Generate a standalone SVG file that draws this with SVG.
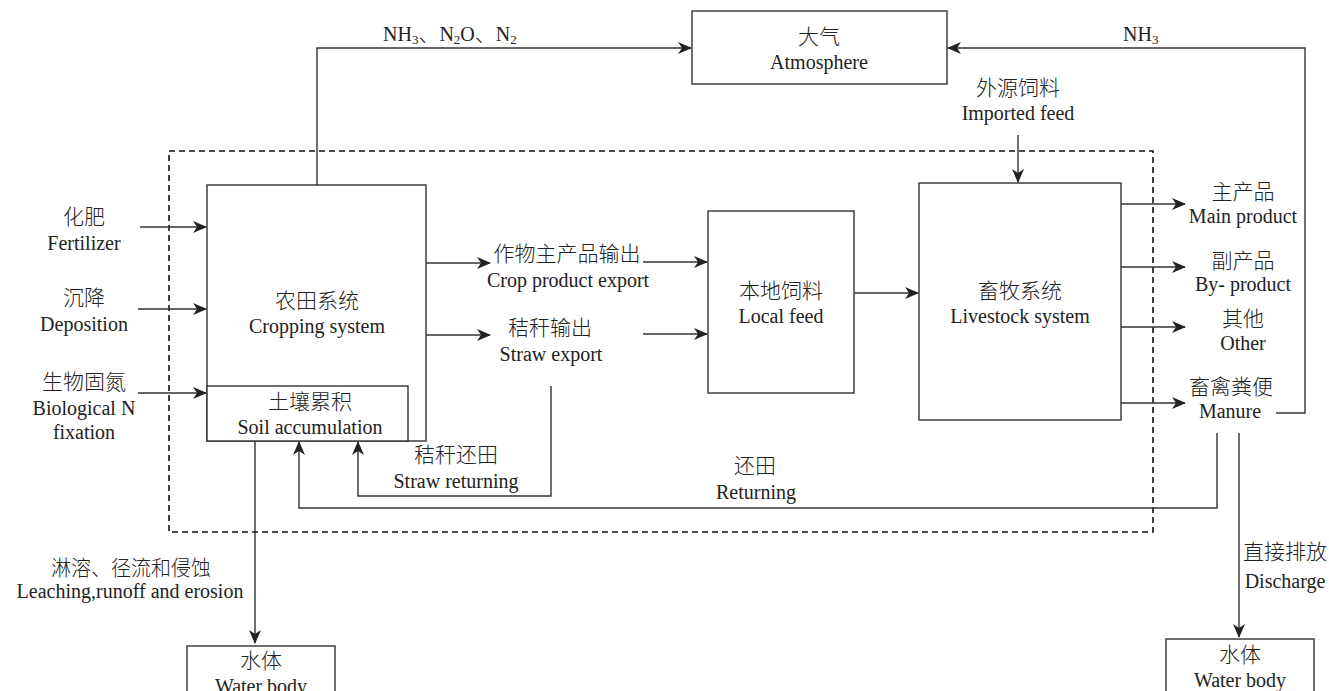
<svg xmlns="http://www.w3.org/2000/svg" width="1329" height="691" viewBox="0 0 1329 691">
<style>
.box{fill:#fff;stroke:#333;stroke-width:1.4}
.ln{fill:none;stroke:#333;stroke-width:1.4}
.dash{fill:none;stroke:#111;stroke-width:1.6;stroke-dasharray:6 4}
text{font-family:"Liberation Serif","Noto Sans CJK SC",serif;font-size:20px;fill:#222;text-anchor:middle}
.zh{font-family:"Noto Sans CJK SC","Liberation Serif",sans-serif;font-size:21px;font-weight:300}
.st{text-anchor:start}
</style>
<defs>
<marker id="ah" markerWidth="14" markerHeight="12" refX="13" refY="6" orient="auto" markerUnits="userSpaceOnUse">
<path d="M0,0 L14,6 L0,12 L4,6 z" fill="#222"/>
</marker>
</defs>
<rect class="dash" x="169" y="151" width="984" height="381"/>
<g id="connectors">
<path class="ln" d="M317,185 V48 H691" marker-end="url(#ah)"/>
<path class="ln" d="M1276,413 H1305 V48 H948" marker-end="url(#ah)"/>
<path class="ln" d="M1018,135 V182" marker-end="url(#ah)"/>
<path class="ln" d="M140,227 H206" marker-end="url(#ah)"/>
<path class="ln" d="M138,309 H206" marker-end="url(#ah)"/>
<path class="ln" d="M138,393 H206" marker-end="url(#ah)"/>
<path class="ln" d="M426,263 H490" marker-end="url(#ah)"/>
<path class="ln" d="M643,262 H707" marker-end="url(#ah)"/>
<path class="ln" d="M426,335 H490" marker-end="url(#ah)"/>
<path class="ln" d="M643,334 H707" marker-end="url(#ah)"/>
<path class="ln" d="M854,293 H918" marker-end="url(#ah)"/>
<path class="ln" d="M1121,204 H1185" marker-end="url(#ah)"/>
<path class="ln" d="M1121,267 H1185" marker-end="url(#ah)"/>
<path class="ln" d="M1121,327 H1185" marker-end="url(#ah)"/>
<path class="ln" d="M1121,403 H1185" marker-end="url(#ah)"/>
<path class="ln" d="M551,386 V496 H358 V442" marker-end="url(#ah)"/>
<path class="ln" d="M1217,433 V508 H299 V442" marker-end="url(#ah)"/>
<path class="ln" d="M255,441 V643" marker-end="url(#ah)"/>
<path class="ln" d="M1239,433 V637" marker-end="url(#ah)"/>
</g>
<g id="atmosphere">
<rect class="box" x="692" y="11" width="255" height="73"/>
<text class="zh" x="819" y="44">大气</text>
<text x="819" y="69">Atmosphere</text>
</g>
<g id="cropping">
<rect class="box" x="207" y="185" width="219" height="256"/>
<text class="zh" x="317" y="308">农田系统</text>
<text x="317" y="333">Cropping system</text>
</g>
<g id="soil">
<rect class="box" x="207" y="386" width="201" height="55"/>
<text class="zh" x="310" y="409">土壤累积</text>
<text x="310" y="434">Soil accumulation</text>
</g>
<g id="localfeed">
<rect class="box" x="708" y="211" width="146" height="182"/>
<text class="zh" x="781" y="298">本地饲料</text>
<text x="781" y="323">Local feed</text>
</g>
<g id="livestock">
<rect class="box" x="919" y="183" width="202" height="237"/>
<text class="zh" x="1020" y="298">畜牧系统</text>
<text x="1020" y="323">Livestock system</text>
</g>
<g id="water-left">
<rect class="box" x="187" y="646" width="148" height="60"/>
<text class="zh" x="261" y="668">水体</text>
<text x="261" y="693">Water body</text>
</g>
<g id="water-right">
<rect class="box" x="1166" y="639" width="148" height="60"/>
<text class="zh" x="1240" y="662">水体</text>
<text x="1240" y="687">Water body</text>
</g>
<g id="labels">
<text class="st" x="383" y="41">NH<tspan font-size="13" dy="3">3</tspan><tspan class="zh" dy="-3">、</tspan>N<tspan font-size="13" dy="3">2</tspan><tspan dy="-3">O</tspan><tspan class="zh">、</tspan>N<tspan font-size="13" dy="3">2</tspan></text>
<text class="st" x="1123" y="41">NH<tspan font-size="13" dy="3">3</tspan></text>
<text class="zh" x="1018" y="95">外源饲料</text>
<text x="1018" y="120">Imported feed</text>
<text class="zh" x="84" y="224">化肥</text>
<text x="84" y="250">Fertilizer</text>
<text class="zh" x="84" y="305">沉降</text>
<text x="84" y="331">Deposition</text>
<text class="zh" x="84" y="389">生物固氮</text>
<text x="84" y="415">Biological N</text>
<text x="84" y="439">fixation</text>
<text class="zh" x="567" y="261">作物主产品输出</text>
<text x="568" y="287">Crop product export</text>
<text class="zh" x="550" y="335">秸秆输出</text>
<text x="551" y="361">Straw export</text>
<text class="zh" x="1243" y="199">主产品</text>
<text x="1243" y="223">Main product</text>
<text class="zh" x="1243" y="268">副产品</text>
<text x="1243" y="291">By- product</text>
<text class="zh" x="1243" y="326">其他</text>
<text x="1243" y="350">Other</text>
<text class="zh" x="1231" y="394">畜禽粪便</text>
<text x="1230" y="418">Manure</text>
<text class="zh" x="456" y="462">秸秆还田</text>
<text x="456" y="488">Straw returning</text>
<text class="zh" x="755" y="473">还田</text>
<text x="756" y="499">Returning</text>
<text class="zh" x="131" y="575" textLength="160" lengthAdjust="spacingAndGlyphs">淋溶、径流和侵蚀</text>
<text x="130" y="598">Leaching,runoff and erosion</text>
<text class="zh" x="1285" y="559">直接排放</text>
<text x="1285" y="588">Discharge</text>
</g>
</svg>
